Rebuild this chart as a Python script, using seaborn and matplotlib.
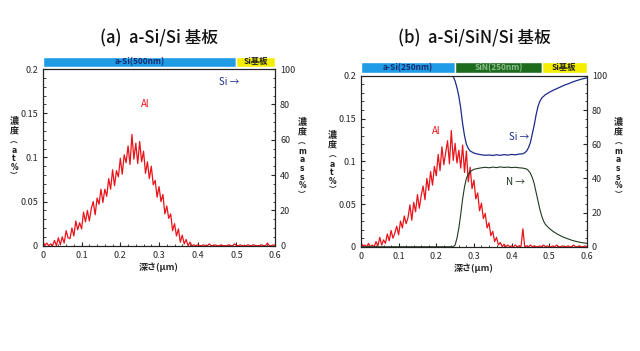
import numpy as np
import pandas as pd
import seaborn as sns
import matplotlib
matplotlib.use("Agg")
import matplotlib.pyplot as plt
from matplotlib.ticker import MultipleLocator, FixedLocator, FixedFormatter

# ---- data ----
depth_al = [round(i * 0.005, 3) for i in range(121)]

al_a = [0.005, 0.000, 0.003, 0.000, 0.002, 0.000, 0.006, 0.000, 0.009, 0.001,
        0.010, 0.003, 0.017, 0.009, 0.008, 0.020, 0.011, 0.028, 0.018, 0.026,
        0.019, 0.038, 0.027, 0.040, 0.028, 0.042, 0.050, 0.035, 0.054, 0.047,
        0.064, 0.049, 0.064, 0.056, 0.076, 0.064, 0.086, 0.068, 0.085, 0.078,
        0.099, 0.081, 0.103, 0.094, 0.113, 0.092, 0.126, 0.098, 0.116, 0.093,
        0.118, 0.095, 0.107, 0.082, 0.095, 0.076, 0.090, 0.069, 0.074, 0.055,
        0.067, 0.050, 0.058, 0.036, 0.045, 0.031, 0.036, 0.017, 0.025, 0.011,
        0.019, 0.004, 0.012, 0.002, 0.007, 0.000, 0.004, 0.000, 0.001, 0.000,
        0.001, 0.000, 0.000, 0.001, 0.000, 0.000, 0.002, 0.000, 0.000, 0.001,
        0.000, 0.000, 0.001, 0.000, 0.000, 0.000, 0.001, 0.000, 0.000, 0.002,
        0.000, 0.000, 0.001, 0.000, 0.000, 0.000, 0.001, 0.000, 0.000, 0.001,
        0.000, 0.000, 0.000, 0.001, 0.000, 0.000, 0.003, 0.000, 0.000, 0.001,
        0.000]

al_b = [0.005, 0.001, 0.002, 0.000, 0.004, 0.000, 0.002, 0.000, 0.006, 0.001,
        0.011, 0.002, 0.008, 0.004, 0.015, 0.007, 0.019, 0.010, 0.016, 0.024,
        0.014, 0.030, 0.022, 0.036, 0.027, 0.034, 0.049, 0.031, 0.052, 0.041,
        0.061, 0.045, 0.060, 0.071, 0.055, 0.080, 0.066, 0.088, 0.072, 0.094,
        0.083, 0.108, 0.089, 0.117, 0.096, 0.110, 0.124, 0.097, 0.136, 0.101,
        0.121, 0.098, 0.113, 0.092, 0.119, 0.087, 0.112, 0.076, 0.093, 0.068,
        0.078, 0.056, 0.063, 0.042, 0.051, 0.033, 0.039, 0.022, 0.028, 0.013,
        0.018, 0.006, 0.011, 0.002, 0.005, 0.000, 0.003, 0.000, 0.002, 0.000,
        0.001, 0.000, 0.002, 0.000, 0.001, 0.000, 0.021, 0.000, 0.001, 0.000,
        0.002, 0.000, 0.001, 0.000, 0.000, 0.001, 0.000, 0.002, 0.000, 0.001,
        0.000, 0.000, 0.001, 0.000, 0.002, 0.000, 0.000, 0.001, 0.000, 0.000,
        0.001, 0.000, 0.000, 0.002, 0.000, 0.000, 0.001, 0.000, 0.000, 0.001,
        0.000]

depth_si = [0.0, 0.24, 0.245, 0.25, 0.255, 0.26, 0.265, 0.27, 0.275, 0.28,
            0.285, 0.29, 0.30, 0.31, 0.32, 0.33, 0.34, 0.35, 0.36, 0.37,
            0.38, 0.39, 0.40, 0.41, 0.42, 0.43, 0.435, 0.44, 0.445, 0.45,
            0.455, 0.46, 0.465, 0.47, 0.475, 0.48, 0.49, 0.50, 0.51, 0.52,
            0.53, 0.54, 0.55, 0.56, 0.57, 0.58, 0.59, 0.60]
si_b = [100, 100, 99.5, 97, 93, 88, 81, 72, 65, 60,
        57.5, 56, 54.8, 54.2, 53.8, 53.5, 53.7, 53.4, 53.8, 53.5,
        53.9, 53.6, 54.0, 53.8, 54.2, 54.4, 55, 56, 58, 61,
        66, 71, 77, 82, 85, 87, 89, 90.3, 91.5, 92.5,
        93.5, 94.5, 95.3, 96.2, 97, 97.7, 98.3, 98.8]

depth_n = [0.0, 0.245, 0.25, 0.255, 0.26, 0.265, 0.27, 0.275, 0.28, 0.285,
           0.29, 0.30, 0.31, 0.32, 0.33, 0.34, 0.35, 0.36, 0.37, 0.38,
           0.39, 0.40, 0.41, 0.42, 0.43, 0.44, 0.445, 0.45, 0.455, 0.46,
           0.465, 0.47, 0.475, 0.48, 0.485, 0.49, 0.50, 0.51, 0.52, 0.53,
           0.54, 0.55, 0.56, 0.57, 0.58, 0.59, 0.60]
n_b = [0, 0, 1, 5, 11, 19, 28, 35, 40, 42.5,
       44, 45.3, 45.8, 46.2, 46.5, 46.2, 46.6, 46.3, 46.7, 46.4,
       46.6, 46.3, 46.5, 46.2, 46.0, 45.5, 44.5, 43, 40.5, 37,
       32, 27, 22, 18, 15, 13, 10.8, 9, 7.6, 6.4,
       5.4, 4.6, 3.8, 3.2, 2.7, 2.3, 2.0]

layers_a = ["a-Si(500nm)", "Si基板"]
start_a = [0.0, 0.5]
end_a = [0.5, 0.6]
layers_b = ["a-Si(250nm)", "SiN(250nm)", "Si基板"]
start_b = [0.0, 0.25, 0.48]
end_b = [0.25, 0.48, 0.6]

xticks = [0, 0.1, 0.2, 0.3, 0.4, 0.5, 0.6]
xtick_labels = ["0", "0.1", "0.2", "0.3", "0.4", "0.5", "0.6"]
yticks_at = [0, 0.05, 0.1, 0.15, 0.2]
ytick_labels_at = ["0", "0.05", "0.1", "0.15", "0.2"]
yticks_mass = [0, 20, 40, 60, 80, 100]

titles = ["(a)  a-Si/Si 基板", "(b)  a-Si/SiN/Si 基板"]

# ---- style ----
sns.set_style("ticks")
plt.rcParams["font.family"] = ["Noto Sans CJK JP", "DejaVu Sans"]
plt.rcParams["xtick.direction"] = "in"
plt.rcParams["ytick.direction"] = "in"

RED = "#e8141a"
SI_C = "#1c2a8c"
N_C = "#1f3a1f"
band_colors = {"a-Si(500nm)": "#1e9ce6", "a-Si(250nm)": "#1e9ce6",
               "SiN(250nm)": "#1d6b1d", "Si基板": "#f4ee00"}
band_text = {"a-Si(500nm)": "#1a2a6a", "a-Si(250nm)": "#1a2a6a",
             "SiN(250nm)": "#8fbf8f", "Si基板": "#222222"}

fig = plt.figure(figsize=(6.4, 3.51), dpi=100)
H = 351.0


def vlabel(x, y_top_px, unit):
    # vertical Japanese label: kanji stacked, then the unit letter by letter
    fig.text(x, 1 - y_top_px / H, "濃\n度", ha="center", va="top",
             fontsize=6.5, linespacing=1.25, fontweight="bold", color="#222222")
    rest = ["︵"] + [c for c in unit] + ["︶"]
    fig.text(x, 1 - (y_top_px + 21) / H, "\n".join(rest), ha="center", va="top",
             fontsize=5.5, linespacing=0.95, fontweight="bold", color="#222222",
             family=["DejaVu Sans", "Noto Sans CJK JP"])


def panel(rect, band_rect, al, layers, starts, ends, title, title_y, draw_sin):
    ax = fig.add_axes(rect)
    df = pd.DataFrame({"depth": depth_al, "al": al})
    sns.lineplot(data=df, x="depth", y="al", ax=ax, color=RED, lw=0.9,
                 estimator=None, sort=False)
    ax.set_xlim(0, 0.6)
    ax.set_ylim(0, 0.2)
    ax.xaxis.set_major_locator(FixedLocator(xticks))
    ax.xaxis.set_major_formatter(FixedFormatter(xtick_labels))
    ax.yaxis.set_major_locator(FixedLocator(yticks_at))
    ax.yaxis.set_major_formatter(FixedFormatter(ytick_labels_at))
    ax.xaxis.set_minor_locator(MultipleLocator(0.02))
    ax.yaxis.set_minor_locator(MultipleLocator(0.01))
    ax.tick_params(labelsize=6.5, length=3, width=0.8)
    ax.tick_params(which="minor", length=1.8, width=0.6)
    ax.set_xlabel("深さ(μm)", fontsize=6.5, fontweight="bold", labelpad=2)
    ax.set_ylabel("")

    ax2 = ax.twinx()
    ax2.set_ylim(0, 100)
    ax2.set_yticks(yticks_mass)
    ax2.yaxis.set_minor_locator(MultipleLocator(5))
    ax2.tick_params(labelsize=6.5, length=3, width=0.8, direction="in")
    ax2.tick_params(which="minor", length=1.8, width=0.6, direction="in")
    if draw_sin:
        dsi = pd.DataFrame({"depth": depth_si, "si": si_b})
        dn = pd.DataFrame({"depth": depth_n, "n": n_b})
        sns.lineplot(data=dsi, x="depth", y="si", ax=ax2, color=SI_C, lw=0.9,
                     estimator=None, sort=False)
        sns.lineplot(data=dn, x="depth", y="n", ax=ax2, color=N_C, lw=0.8,
                     estimator=None, sort=False)
    ax2.set_ylabel("")
    for a in (ax, ax2):
        for s in a.spines.values():
            s.set_linewidth(0.8)
            s.set_color("#222222")

    bx = fig.add_axes(band_rect)
    bx.barh([0] * len(layers), [e - s for s, e in zip(starts, ends)], left=starts,
            color=[band_colors[n] for n in layers], height=1.0)
    bx.set_xlim(0, 0.6)
    bx.set_ylim(-0.5, 0.5)
    bx.axis("off")
    for n, s, e in zip(layers, starts, ends):
        bx.text((s + e) / 2, 0, n, ha="center", va="center", fontsize=6,
                color=band_text[n], fontweight="bold")

    fig.text((rect[0] + rect[0] + rect[2]) / 2, title_y, title, ha="center",
             va="center", fontsize=12, fontweight="medium", color="#111111")
    return ax, ax2


ax_a, ax2_a = panel([0.067, 0.300, 0.363, 0.503], [0.067, 0.808, 0.363, 0.031],
                    al_a, layers_a, start_a, end_a, titles[0], 0.892, False)
ax_b, ax2_b = panel([0.564, 0.297, 0.353, 0.487], [0.564, 0.792, 0.353, 0.031],
                    al_b, layers_b, start_b, end_b, titles[1], 0.892, True)

ax_a.text(0.265, 0.161, "Al", color=RED, fontsize=7, ha="center", va="center")
ax2_a.text(0.48, 92.6, "Si →", color=SI_C, fontsize=7, ha="center", va="center")
ax_b.text(0.20, 0.136, "Al", color=RED, fontsize=7, ha="center", va="center")
ax2_b.text(0.42, 64, "Si →", color=SI_C, fontsize=7, ha="center", va="center")
ax2_b.text(0.41, 38, "N →", color=N_C, fontsize=7, ha="center", va="center")

vlabel(0.022, 116, "at%")
vlabel(0.472, 117, "mass%")
vlabel(0.519, 130, "at%")
vlabel(0.966, 117, "mass%")

fig.savefig("out.png", dpi=100)
